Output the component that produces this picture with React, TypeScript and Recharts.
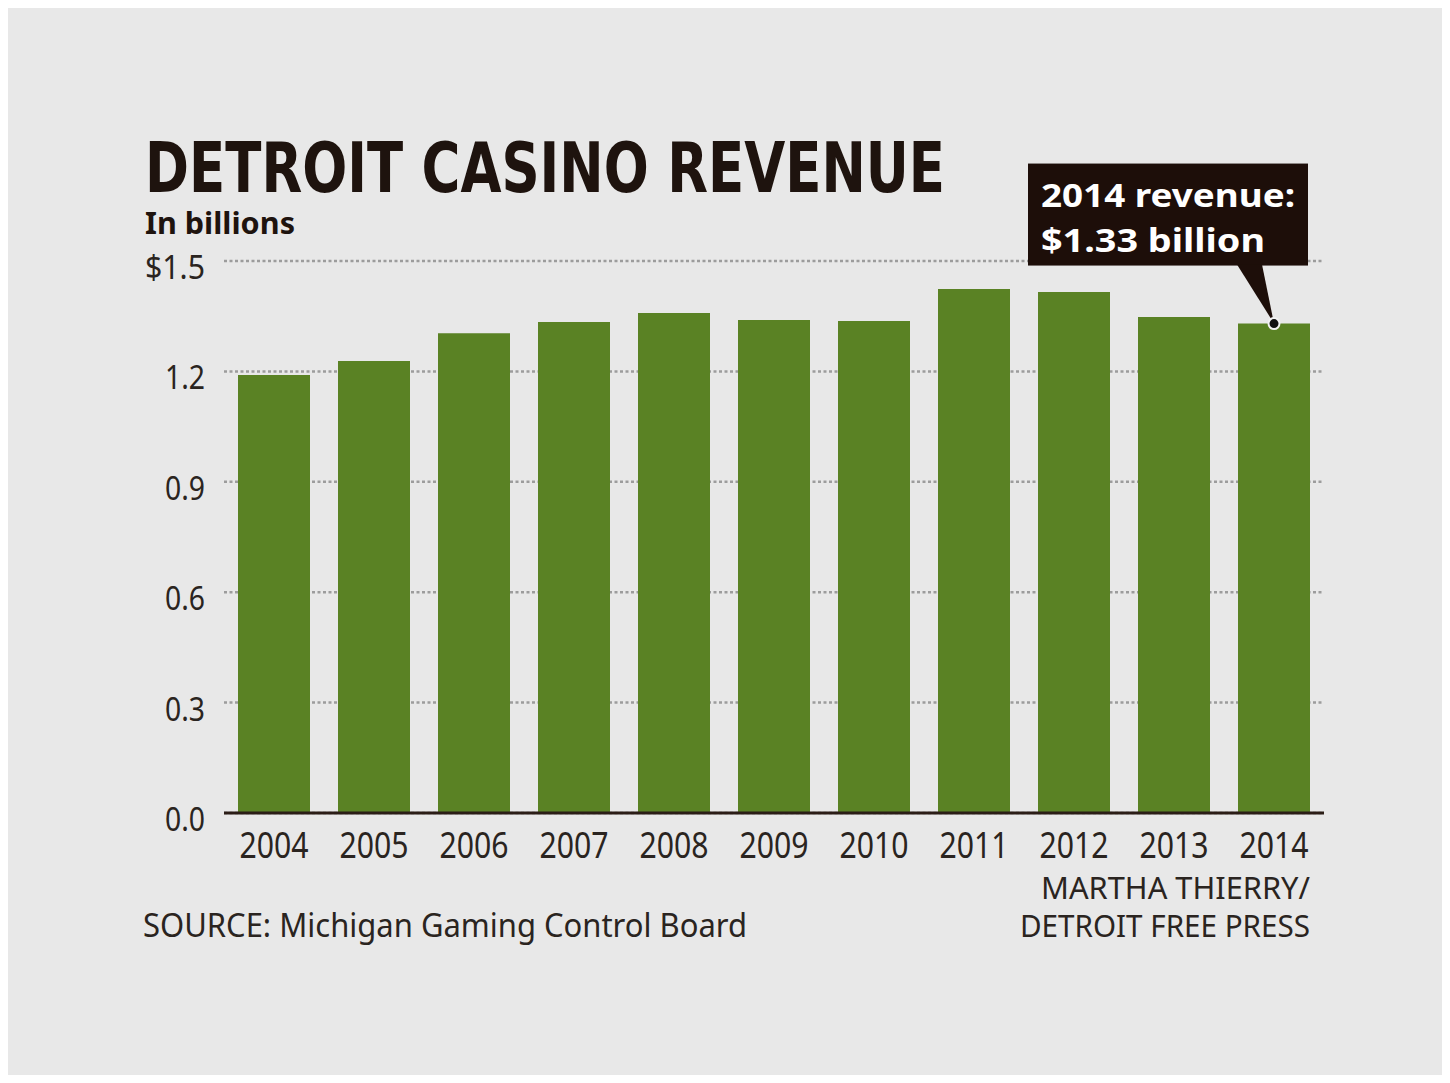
import { BarChart, Bar, XAxis, YAxis, CartesianGrid, ReferenceDot } from "recharts";

const years = ["2004", "2005", "2006", "2007", "2008", "2009", "2010", "2011", "2012", "2013", "2014"];
const revenue = [1.19, 1.228, 1.304, 1.334, 1.359, 1.34, 1.337, 1.424, 1.416, 1.348, 1.33];
const yTicks = [0, 0.3, 0.6, 0.9, 1.2, 1.5];

const calloutYear = "2014";
const calloutValue = 1.33;
const calloutLines = ["2014 revenue:", "$1.33 billion"];

const data = years.map((year, i) => ({ year, revenue: revenue[i] }));

const W = 1434;
const H = 1067;
const narrow = "'DejaVu Sans Condensed', 'Liberation Sans Narrow', sans-serif";
const sans = "'Noto Sans', 'Open Sans', sans-serif";
const ink = "#2a2420";

function YTick(props: any) {
    const { x, y, payload } = props;
    const label = payload.value === 1.5 ? "$1.5" : payload.value.toFixed(1);
    return (
        <text
            x={x - 11}
            y={y + 18}
            textAnchor="end"
            fontFamily={sans}
            fontSize={33}
            fill={ink}
            textLength={label.length === 4 ? 60 : 40}
            lengthAdjust="spacingAndGlyphs"
        >
            {label}
        </text>
    );
}

function XTick(props: any) {
    const { x, y, payload } = props;
    return (
        <text
            x={x}
            y={y + 37}
            textAnchor="middle"
            fontFamily={sans}
            fontSize={37}
            fill={ink}
            textLength={69}
            lengthAdjust="spacingAndGlyphs"
        >
            {payload.value}
        </text>
    );
}

function Callout(props: any) {
    const { cx, cy } = props;
    const boxTop = cy - 160;
    const boxBottom = cy - 58;
    return (
        <g>
            <rect x={cx - 246} y={boxTop} width={280} height={boxBottom - boxTop} fill="#1d0e09" />
            <polygon
                points={`${cx - 37},${boxBottom - 1} ${cx - 12},${boxBottom - 1} ${cx},${cy}`}
                fill="#1d0e09"
            />
            <circle cx={cx} cy={cy} r={5.5} fill="#111" stroke="#f2f2f2" strokeWidth={2} />
            <text
                x={cx - 233}
                y={cy - 117}
                fontFamily={sans}
                fontWeight="bold"
                fontSize={32}
                fill="#fff"
                textLength={254}
                lengthAdjust="spacingAndGlyphs"
            >
                {calloutLines[0]}
            </text>
            <text
                x={cx - 233}
                y={cy - 72}
                fontFamily={sans}
                fontWeight="bold"
                fontSize={32}
                fill="#fff"
                textLength={224}
                lengthAdjust="spacingAndGlyphs"
            >
                {calloutLines[1]}
            </text>
        </g>
    );
}

export default function App() {
    return (
        <div style={{ position: "relative", width: W, height: H, background: "#e8e8e8" }}>
            <BarChart
                width={W}
                height={H}
                data={data}
                margin={{ top: 253, right: 118, bottom: 202, left: 136 }}
                barCategoryGap="14%"
            >
                <CartesianGrid
                    vertical={false}
                    stroke="#9c9c9c"
                    strokeWidth={2.5}
                    strokeDasharray="3 2.5"
                />
                <XAxis
                    dataKey="year"
                    height={60}
                    tickLine={false}
                    axisLine={{ stroke: "#2b1d16", strokeWidth: 3 }}
                    tick={<XTick />}
                    interval={0}
                />
                <YAxis
                    width={80}
                    domain={[0, 1.5]}
                    ticks={yTicks}
                    axisLine={false}
                    tickLine={false}
                    tick={<YTick />}
                />
                <Bar dataKey="revenue" fill="#5a8224" isAnimationActive={false} />
                <ReferenceDot x={calloutYear} y={calloutValue} r={5} shape={<Callout />} />
            </BarChart>
            <svg
                width={W}
                height={H}
                style={{ position: "absolute", left: 0, top: 0, pointerEvents: "none" }}
            >
                <text
                    x={137}
                    y={184}
                    fontFamily={narrow}
                    fontWeight="bold"
                    fontSize={69}
                    fill="#1e130e"
                    textLength={800}
                    lengthAdjust="spacingAndGlyphs"
                >
                    DETROIT CASINO REVENUE
                </text>
                <text
                    x={137}
                    y={226}
                    fontFamily={sans}
                    fontWeight="bold"
                    fontSize={30}
                    fill="#1e130e"
                    textLength={150}
                    lengthAdjust="spacingAndGlyphs"
                >
                    In billions
                </text>
                <text
                    x={135}
                    y={929}
                    fontFamily={sans}
                    fontSize={32}
                    fill={ink}
                    textLength={604}
                    lengthAdjust="spacingAndGlyphs"
                >
                    SOURCE: Michigan Gaming Control Board
                </text>
                <text
                    x={1302}
                    y={891}
                    textAnchor="end"
                    fontFamily={sans}
                    fontSize={30}
                    fill={ink}
                    textLength={269}
                    lengthAdjust="spacingAndGlyphs"
                >
                    MARTHA THIERRY/
                </text>
                <text
                    x={1302}
                    y={929}
                    textAnchor="end"
                    fontFamily={sans}
                    fontSize={31}
                    fill={ink}
                    textLength={290}
                    lengthAdjust="spacingAndGlyphs"
                >
                    DETROIT FREE PRESS
                </text>
            </svg>
        </div>
    );
}
